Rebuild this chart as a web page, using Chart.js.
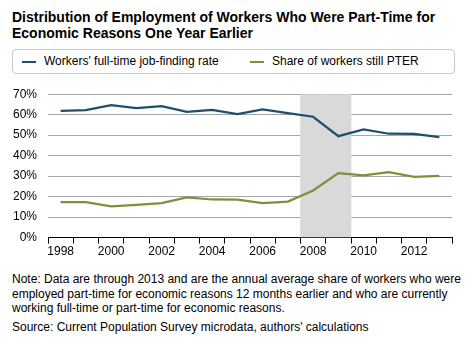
<!DOCTYPE html>
<html>
<head>
<meta charset="utf-8">
<script src="https://cdn.jsdelivr.net/npm/chart.js@4/dist/chart.umd.min.js"></script>
<style>
  body { margin: 0; background: #fff; font-family: "Liberation Sans", Arial, sans-serif; color: #000; }
  #wrap { position: relative; width: 475px; height: 340px; overflow: hidden; }
  .title { position: absolute; left: 12px; top: 9px; font-weight: bold; font-size: 14px; line-height: 16px; }
  .legend { position: absolute; left: 12px; top: 49px; width: 443px; height: 25px; border: 1px solid #c8c8c8; border-radius: 4px; box-sizing: border-box; font-size: 12px; }
  .legend span { position: absolute; top: 4px; white-space: nowrap; }
  .legend i { position: absolute; top: 11px; width: 14px; height: 2px; }
  #chartBox { position: absolute; left: 0; top: 76px; width: 475px; height: 184px; }
  .note { position: absolute; left: 12px; top: 272px; font-size: 12px; line-height: 14.5px; width: 460px; }
  .source { position: absolute; left: 12px; top: 320px; font-size: 12px; }
</style>
</head>
<body>
<div id="wrap">
  <div class="title">Distribution of Employment of Workers Who Were Part-Time for<br>Economic Reasons One Year Earlier</div>
  <div class="legend">
    <i style="left:9px;background:#1f4e6e"></i><span style="left:31px">Workers' full-time job-finding rate</span>
    <i style="left:237px;background:#77933c"></i><span style="left:259px">Share of workers still PTER</span>
  </div>
  <div id="chartBox"><canvas id="chart"></canvas></div>
  <div class="note">Note: Data are through 2013 and are the annual average share of workers who were employed part-time for economic reasons 12 months earlier and who are currently working full-time or part-time for economic reasons.</div>
  <div class="source">Source: Current Population Survey microdata, authors' calculations</div>
</div>
<script>
const years = ["1998", "1999", "2000", "2001", "2002", "2003", "2004", "2005",
  "2006", "2007", "2008", "2009", "2010", "2011", "2012", "2013"];
const fullTimeRate = [61.8, 62.2, 64.7, 63.2, 64.2, 61.4, 62.4, 60.3,
  62.6, 60.8, 59.0, 49.5, 52.8, 50.7, 50.6, 49.0];
const stillPter = [17.3, 17.3, 15.3, 16.0, 16.8, 19.6, 18.6, 18.5,
  16.8, 17.6, 23.0, 31.5, 30.4, 31.9, 29.6, 30.1];
const recessionYears = ["2008", "2009"];
const yTicks = [0, 10, 20, 30, 40, 50, 60, 70];

const font = { family: "'Liberation Sans', Arial, sans-serif", size: 12 };

new Chart(document.getElementById("chart"), {
  type: "line",
  data: {
    labels: years,
    datasets: [
      {
        type: "line",
        label: "Workers' full-time job-finding rate",
        data: fullTimeRate,
        borderColor: "#1f4e6e",
        borderWidth: 2.25,
        pointRadius: 0,
        tension: 0,
        order: 1,
      },
      {
        type: "line",
        label: "Share of workers still PTER",
        data: stillPter,
        borderColor: "#77933c",
        borderWidth: 2.25,
        pointRadius: 0,
        tension: 0,
        order: 2,
      },
      {
        type: "bar",
        label: "Recession",
        data: years.map((y) => (recessionYears.includes(y) ? yTicks[yTicks.length - 1] : null)),
        backgroundColor: "#d9d9d9",
        barPercentage: 1,
        categoryPercentage: 1,
        order: 3,
      },
    ],
  },
  options: {
    responsive: true,
    maintainAspectRatio: false,
    animation: false,
    layout: { padding: { top: 6, right: 23, left: 0, bottom: 0 } },
    plugins: { legend: { display: false }, tooltip: { enabled: false } },
    scales: {
      x: {
        offset: true,
        grid: { display: true, offset: true, drawOnChartArea: false, color: "#000", tickLength: 6 },
        border: { color: "#000", width: 1 },
        ticks: {
          autoSkip: false,
          maxRotation: 0,
          color: "#000",
          font,
          padding: 1,
          callback: (v, i) => (i % 2 === 0 ? years[i] : ""),
        },
      },
      y: {
        min: 0,
        max: 70,
        afterFit: (s) => { s.width = 48; },
        afterBuildTicks: (s) => { s.ticks = yTicks.map((v) => ({ value: v })); },
        grid: { color: "#a6a6a6", drawTicks: false },
        border: { display: false },
        ticks: { color: "#000", font, padding: 11, callback: (v) => v + "%" },
      },
    },
  },
});
</script>
</body>
</html>
